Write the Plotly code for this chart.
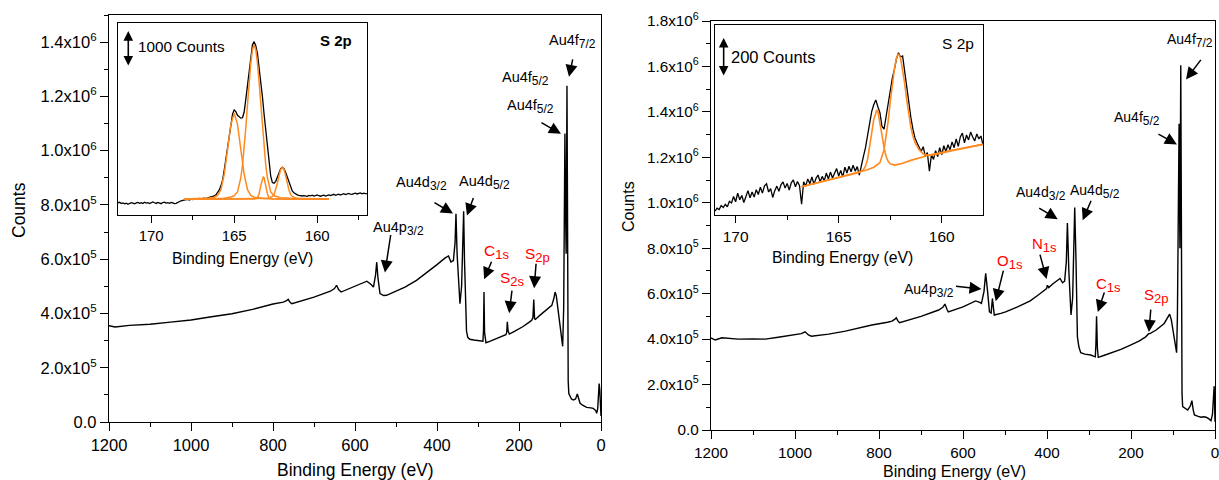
import numpy as np
import plotly.graph_objects as go

FONT = "Liberation Sans, Arial, sans-serif"
ORANGE = "#FF8A1F"
RED = "#FF0000"

# ---------------- survey spectrum, left panel ----------------
left_energy = [1200, 1185, 1150, 1100, 1050, 1000, 950, 900, 850, 800,
               775, 768, 763, 758, 754, 740, 700, 660, 650, 645,
               640, 634, 600, 580, 571, 560, 555, 550, 547, 544,
               539, 530, 523, 500, 478, 450, 420, 400, 380, 372,
               366, 360, 356, 353.7, 351, 347, 344, 340, 337, 335,
               333, 330, 328, 325, 320, 310, 300, 291, 288, 286.5,
               285.4, 284, 282, 280.5, 270, 250, 240, 232, 230, 228.5,
               226.5, 223.6, 210, 190, 175, 169, 166, 164, 162, 160,
               150, 135, 120, 115, 112, 109, 105, 101.6, 97, 93.5,
               91, 89.5, 88, 87, 86, 85, 84, 83, 82, 81,
               80, 78.5, 75.6, 72, 67.5, 62, 57.8, 54, 51, 45,
               35, 25, 19, 13, 10.5, 8, 6, 4.5, 3, 1.5, 0]
left_counts = [3.55e5, 3.50e5, 3.56e5, 3.60e5, 3.68e5, 3.76e5, 3.88e5, 3.99e5, 4.15e5, 4.35e5,
               4.42e5, 4.46e5, 4.52e5, 4.40e5, 4.36e5, 4.42e5, 4.60e5, 4.82e5, 4.92e5, 5.04e5,
               4.88e5, 4.79e5, 5.02e5, 5.13e5, 5.19e5, 5.06e5, 4.97e5, 5.40e5, 5.89e5, 5.30e5,
               4.73e5, 4.66e5, 4.67e5, 4.82e5, 4.97e5, 5.22e5, 5.55e5, 5.80e5, 6.05e5, 6.12e5,
               5.90e5, 5.95e5, 6.60e5, 7.67e5, 6.20e5, 4.80e5, 4.36e5, 5.00e5, 6.80e5, 7.77e5,
               6.00e5, 3.80e5, 3.35e5, 3.12e5, 3.05e5, 3.02e5, 3.01e5, 3.00e5, 2.98e5, 3.40e5,
               4.79e5, 3.30e5, 2.95e5, 2.92e5, 2.98e5, 3.10e5, 3.16e5, 3.22e5, 3.30e5, 3.69e5,
               3.35e5, 3.24e5, 3.35e5, 3.52e5, 3.68e5, 3.75e5, 3.85e5, 4.51e5, 3.80e5, 3.78e5,
               3.92e5, 4.12e5, 4.30e5, 4.55e5, 4.79e5, 4.65e5, 4.20e5, 3.75e5, 3.20e5, 2.79e5,
               4.20e5, 8.00e5, 1.063e6, 8.50e5, 6.50e5, 6.20e5, 9.00e5, 1.239e6, 9.00e5, 4.00e5,
               1.50e5, 1.05e5, 9.3e4, 8.5e4, 8.1e4, 8.5e4, 1.03e5, 7.8e4, 6.9e4, 6.2e4,
               5.4e4, 5.2e4, 5.0e4, 4.2e4, 3.2e4, 5.0e4, 1.2e5, 1.42e5, 1.2e5, 6.0e4, 2.2e4]

# ---------------- survey spectrum, right panel ----------------
right_energy = [1200, 1190, 1174, 1150, 1135, 1100, 1071, 1040, 1000, 985,
                976, 968, 961, 920, 880, 850, 817, 780, 769, 762,
                759, 755, 751, 700, 658, 648, 643, 638, 635, 600,
                570, 560, 556, 550, 546, 542, 537, 533, 530, 527,
                525.5, 510, 498.6, 470, 440, 420, 407, 401, 399, 396,
                385, 375, 369, 363, 358, 354, 351.4, 348, 345, 342.8,
                339, 336, 334, 331, 327.6, 324, 319.7, 310, 295.8, 288,
                285, 283.5, 282, 280, 278, 265, 240, 224, 200, 180,
                165, 160.6, 158, 155, 140, 121, 114, 108, 104, 100,
                97, 93, 91.4, 89.5, 87.5, 85.5, 84.5, 83.5, 82.5, 81.5,
                80.5, 79.5, 78.5, 77, 72, 65, 59, 55, 52, 49,
                40, 33, 27, 21, 15, 9.5, 6, 4, 2, 1, 0]
right_counts = [4.05e5, 3.96e5, 4.06e5, 4.02e5, 4.00e5, 4.01e5, 4.00e5, 4.08e5, 4.21e5, 4.24e5,
                4.32e5, 4.18e5, 4.13e5, 4.22e5, 4.35e5, 4.48e5, 4.62e5, 4.74e5, 4.79e5, 4.88e5,
                4.94e5, 4.80e5, 4.72e5, 5.00e5, 5.28e5, 5.40e5, 5.54e5, 5.30e5, 5.20e5, 5.42e5,
                5.68e5, 5.62e5, 5.57e5, 6.10e5, 6.89e5, 6.20e5, 5.20e5, 5.15e5, 5.79e5, 5.30e5,
                5.06e5, 5.13e5, 5.20e5, 5.42e5, 5.68e5, 5.95e5, 6.15e5, 6.22e5, 6.37e5, 6.27e5,
                6.45e5, 6.59e5, 6.67e5, 6.48e5, 6.55e5, 7.40e5, 9.11e5, 7.00e5, 5.40e5, 5.06e5,
                5.80e5, 8.20e5, 9.79e5, 7.50e5, 4.10e5, 3.65e5, 3.40e5, 3.34e5, 3.30e5, 3.24e5,
                3.22e5, 3.80e5, 5.01e5, 3.60e5, 3.20e5, 3.28e5, 3.45e5, 3.55e5, 3.75e5, 3.92e5,
                4.10e5, 4.18e5, 4.24e5, 4.24e5, 4.40e5, 4.69e5, 4.90e5, 5.10e5, 4.85e5, 4.40e5,
                3.96e5, 3.50e5, 3.40e5, 5.00e5, 9.50e5, 1.348e6, 1.05e6, 8.00e5, 1.20e6, 1.605e6,
                1.15e6, 5.00e5, 1.60e5, 1.03e5, 9.5e4, 8.8e4, 1.05e5, 1.29e5, 9.0e4, 6.6e4,
                6.0e4, 5.6e4, 5.8e4, 5.6e4, 5.0e4, 4.1e4, 7.0e4, 1.6e5, 1.93e5, 1.2e5, 3.6e4]

# ---------------- S 2p inset, left (172 -> 157 eV, 0.1 eV steps) ----------------
left_inset_counts = [
    340, 352, 318, 335, 310, 328, 296, 322, 345, 330,
    312, 338, 350, 325, 340, 318, 355, 332, 342, 320,
    348, 365, 340, 322, 350, 335, 315, 345, 358, 330,
    342, 325, 350, 338, 315, 324, 352, 370, 395, 405,
    417, 420, 432, 418, 440, 428, 445, 452, 438, 460,
    448, 463, 470, 458, 485, 492, 505, 515, 528, 560,
    615, 695, 810, 970, 1250, 1560, 1830, 2090, 2450, 2800,
    2920, 2870, 2770, 2720, 2690, 2700, 2860, 3220, 3640, 4060,
    4460, 4730, 4815, 4700, 4480, 4110, 3700, 3290, 2800, 2330,
    1900, 1450, 1080, 900, 885, 935, 1060, 1190, 1290, 1324,
    1290, 1180, 1050, 900, 770, 670, 615, 580, 560, 545,
    535, 528, 540, 525, 518, 545, 530, 552, 528, 540,
    558, 535, 522, 537, 550, 528, 545, 560, 538, 552,
    575, 548, 562, 580, 555, 570, 590, 565, 578, 600,
    583, 572, 595, 605, 585, 598, 612, 590, 605, 595,
    593]
left_inset_energy = np.linspace(172.0, 157.0, len(left_inset_counts))

fitA_energy = [168.0, 167.0, 166.5, 166.2, 166.0, 165.8, 165.6, 165.4, 165.2, 165.0,
               164.8, 164.6, 164.4, 164.2, 164.0, 163.8, 163.4, 163.0, 162.0, 161.0, 159.3]
fitA_counts = [443, 453, 470, 495, 545, 702, 1131, 1817, 2519, 2825,
               2519, 1817, 1131, 702, 545, 495, 465, 453, 443, 438, 435]
fitB_energy = [168.0, 167.0, 166.2, 165.6, 165.2, 165.0, 164.8, 164.6, 164.5, 164.4,
               164.3, 164.2, 164.1, 164.0, 163.9, 163.8, 163.7, 163.6, 163.5, 163.4,
               163.3, 163.2, 163.1, 163.0, 162.8, 162.6, 162.2, 161.6, 160.6, 159.3]
fitB_counts = [440, 449, 455, 466, 500, 535, 640, 1040, 1384, 1851,
               2422, 3055, 3685, 4225, 4592, 4722, 4592, 4225, 3685, 3055,
               2422, 1851, 1384, 1040, 640, 535, 482, 462, 449, 441]
fitC_energy = [168.0, 163.8, 163.6, 163.5, 163.4, 163.3, 163.25, 163.2, 163.1, 163.0,
               162.9, 162.7, 159.3]
fitC_counts = [437, 445, 478, 592, 817, 1031, 1065, 1031, 817, 592,
               478, 445, 437]
fitD_energy = [168.0, 163.6, 163.1, 162.9, 162.7, 162.6, 162.5, 162.4, 162.3, 162.2,
               162.1, 162.0, 161.9, 161.8, 161.7, 161.6, 161.5, 161.3, 161.1, 160.6, 159.3]
fitD_counts = [440, 447, 460, 475, 515, 565, 695, 880, 1089, 1259,
               1325, 1259, 1089, 880, 695, 565, 515, 475, 460, 447, 440]

# ---------------- S 2p inset, right (171 -> 158 eV, 0.1 eV steps) ----------------
right_inset_counts = [
    20, 35, 28, 48, 38, 55, 42, 70, 62, 95,
    68, 112, 78, 100, 64, 96, 125, 88, 118, 92,
    130, 105, 142, 112, 150, 160, 118, 135, 90, 125,
    148, 122, 155, 170, 138, 162, 128, 165, 180, 145,
    172, 150, 55, 170, 148, 185, 160, 195, 158, 188,
    205, 170, 198, 175, 215, 185, 220, 190, 212, 238,
    200, 228, 195, 245, 215, 250, 222, 255, 225, 248,
    205, 262, 300, 345, 410, 470, 530, 565, 590, 555,
    525, 455, 440, 505, 570, 640, 700, 745, 800, 832,
    810, 815, 730, 655, 590, 500, 440, 395, 370, 345,
    325, 350, 300, 320, 225, 310, 285, 330, 300, 345,
    310, 355, 325, 360, 335, 375, 345, 390, 352, 400,
    420, 370, 410, 385, 425, 400, 380, 415, 390, 405,
    360]
right_inset_energy = np.linspace(171.0, 158.0, len(right_inset_counts))

fit1_energy = [166.8, 164.5, 164.0, 163.8, 163.7, 163.6, 163.5, 163.4, 163.3, 163.2,
               163.15, 163.1, 163.0, 162.9, 162.8, 162.7, 162.6, 162.5, 162.3, 162.0,
               161.5, 161.0, 160.5, 159.5, 158.0]
fit1_counts = [145, 205, 218, 232, 250, 285, 345, 420, 490, 532,
               538, 532, 480, 410, 345, 300, 275, 262, 256, 262,
               280, 296, 310, 332, 362]
fit2_energy = [166.8, 164.5, 164.0, 163.6, 163.3, 163.0, 162.8, 162.7, 162.6, 162.5,
               162.4, 162.3, 162.2, 162.1, 162.0, 161.9, 161.8, 161.7, 161.6, 161.5,
               161.4, 161.3, 161.1, 160.9, 160.6, 160.3, 159.5, 158.0]
fit2_counts = [145, 205, 218, 232, 245, 268, 335, 400, 480, 580,
               670, 745, 805, 826, 805, 750, 675, 590, 510, 450,
               405, 372, 335, 312, 305, 310, 330, 362]

# ---------------- tick labels ----------------
x_major = [1200, 1000, 800, 600, 400, 200, 0]
left_y_ticks = [0, 2e5, 4e5, 6e5, 8e5, 1.0e6, 1.2e6, 1.4e6]
left_y_text = ["0.0", "2.0x10<sup>5</sup>", "4.0x10<sup>5</sup>", "6.0x10<sup>5</sup>",
               "8.0x10<sup>5</sup>", "1.0x10<sup>6</sup>", "1.2x10<sup>6</sup>", "1.4x10<sup>6</sup>"]
right_y_ticks = [0, 2e5, 4e5, 6e5, 8e5, 1.0e6, 1.2e6, 1.4e6, 1.6e6, 1.8e6]
right_y_text = ["0.0", "2.0x10<sup>5</sup>", "4.0x10<sup>5</sup>", "6.0x10<sup>5</sup>",
                "8.0x10<sup>5</sup>", "1.0x10<sup>6</sup>", "1.2x10<sup>6</sup>", "1.4x10<sup>6</sup>",
                "1.6x10<sup>6</sup>", "1.8x10<sup>6</sup>"]
inset_x_ticks = [170, 165, 160]

fig = go.Figure()

def line(x, y, xa, ya, color, width):
    fig.add_trace(go.Scatter(x=x, y=y, mode="lines", xaxis=xa, yaxis=ya,
                             line=dict(color=color, width=width), showlegend=False,
                             hoverinfo="skip"))

line(left_energy, left_counts, "x", "y", "black", 1.4)
line(right_energy, right_counts, "x2", "y2", "black", 1.4)
line(left_inset_energy, left_inset_counts, "x3", "y3", "black", 1.3)
for ex, cy in [(fitA_energy, fitA_counts), (fitB_energy, fitB_counts),
               (fitC_energy, fitC_counts), (fitD_energy, fitD_counts)]:
    line(ex, cy, "x3", "y3", ORANGE, 1.5)
line(right_inset_energy, right_inset_counts, "x4", "y4", "black", 1.3)
for ex, cy in [(fit1_energy, fit1_counts), (fit2_energy, fit2_counts)]:
    line(ex, cy, "x4", "y4", ORANGE, 1.6)

W, H = 1219, 480
def px_x(p):
    return p / W
def px_y(p):
    return 1 - p / H

LW = 1.3

def main_x(dom, anchor, fs):
    return dict(domain=dom, anchor=anchor, range=[1200, 0], autorange=False, automargin=False,
                tickmode="array", tickvals=x_major, ticktext=[str(v) for v in x_major],
                ticklabeloverflow="allow",
                ticks="outside", ticklen=8, tickwidth=LW, tickcolor="black",
                minor=dict(tick0=0, dtick=100, ticks="outside", ticklen=4,
                           tickwidth=LW, tickcolor="black"),
                showline=True, linecolor="black", linewidth=LW, mirror=True,
                showgrid=False, zeroline=False,
                tickfont=dict(family=FONT, size=fs, color="black"))

def main_y(dom, anchor, rng, tv, tt, fs):
    return dict(domain=dom, anchor=anchor, range=rng, autorange=False, automargin=False,
                tickmode="array", tickvals=tv, ticktext=tt,
                ticklabeloverflow="allow",
                ticks="outside", ticklen=8, tickwidth=LW, tickcolor="black",
                minor=dict(tick0=0, dtick=1e5, ticks="outside", ticklen=4,
                           tickwidth=LW, tickcolor="black"),
                showline=True, linecolor="black", linewidth=LW, mirror=True,
                showgrid=False, zeroline=False,
                tickfont=dict(family=FONT, size=fs, color="black"))

def inset_x(dom, anchor, rng, fs):
    return dict(domain=dom, anchor=anchor, range=rng, autorange=False, automargin=False,
                tickmode="array", tickvals=inset_x_ticks,
                ticktext=[str(v) for v in inset_x_ticks],
                ticks="outside", ticklen=7, tickwidth=LW, tickcolor="black",
                minor=dict(tick0=0, dtick=2.5, ticks="outside", ticklen=4,
                           tickwidth=LW, tickcolor="black"),
                showline=True, linecolor="black", linewidth=LW, mirror=True,
                showgrid=False, zeroline=False,
                tickfont=dict(family=FONT, size=fs, color="black"))

def inset_y(dom, anchor, rng):
    return dict(domain=dom, anchor=anchor, range=rng, autorange=False, automargin=False,
                showticklabels=False, ticks="",
                showline=True, linecolor="black", linewidth=LW, mirror=True,
                showgrid=False, zeroline=False)

fig.update_layout(
    width=W, height=H, autosize=False, margin=dict(l=0, r=0, t=0, b=0, pad=0),
    paper_bgcolor="white", plot_bgcolor="white", showlegend=False,
    font=dict(family=FONT, color="black"),
    xaxis=main_x([px_x(109), px_x(601)], "y", 16.5),
    yaxis=main_y([px_y(422), px_y(15)], "x", [0, 1.5e6], left_y_ticks, left_y_text, 16.5),
    xaxis2=main_x([px_x(711), px_x(1215)], "y2", 15.3),
    yaxis2=main_y([px_y(430), px_y(21)], "x2", [0, 1.8e6], right_y_ticks, right_y_text, 15.3),
    xaxis3=inset_x([px_x(118), px_x(367)], "y3", [172, 157], 15),
    yaxis3=inset_y([px_y(215), px_y(23)], "x3", [0, 5333]),
    xaxis4=inset_x([px_x(715), px_x(983)], "y4", [171, 158], 15.5),
    yaxis4=inset_y([px_y(215), px_y(25)], "x4", [0, 974]),
)

ann = []

def title(text, x, y, fs, angle=0):
    ann.append(dict(text=text, x=px_x(x), y=px_y(y), xref="paper", yref="paper",
                    showarrow=False, textangle=angle, xanchor="center", yanchor="middle",
                    font=dict(family=FONT, size=fs, color="black")))

title("Counts", 19, 210, 17.5, -90)
title("Binding Energy (eV)", 355, 470, 17.5)
title("Counts", 628, 207, 16, -90)
title("Binding Energy (eV)", 955, 471, 16)
title("Binding Energy (eV)", 242, 258, 15.8)
title("Binding Energy (eV)", 842, 257, 15.8)

def sub(main, s, size):
    return main + "<sub><span style='font-size:%dpx'>%s</span></sub>" % (size, s)

def label(text, x, y, xr, yr, color, fs, xanchor="center"):
    ann.append(dict(text=text, x=x, y=y, xref=xr, yref=yr, showarrow=False,
                    xanchor=xanchor, yanchor="middle",
                    font=dict(family=FONT, size=fs, color=color)))

def arrow(x, y, ax, ay, xr, yr):
    ann.append(dict(text="", x=x, y=y, xref=xr, yref=yr, showarrow=True,
                    ax=ax, ay=ay, arrowhead=2, arrowsize=1.6, arrowwidth=1.5,
                    arrowcolor="black", standoff=0))

# peak labels: (name, subscript, color, text E, text counts, head E, head counts, dx, dy)
left_marks = [
    ("Au4f", "7/2", "black", 70.7, 1.404e6, 78, 1.272e6, 4, -19),
    ("Au4f", "5/2", "black", 183, 1.265e6, None, None, 0, 0),
    ("Au4f", "5/2", "black", 171, 1.162e6, 97.6, 1.062e6, -21, -12),
    ("Au4d", "3/2", "black", 436.6, 8.79e5, 361, 7.68e5, -20, -12),
    ("Au4d", "5/2", "black", 285, 8.82e5, 327, 7.61e5, 7, -19),
    ("Au4p", "3/2", "black", 493, 7.13e5, 527, 5.51e5, 6, -39),
    ("C", "1s", RED, 254, 6.25e5, 285, 5.26e5, 8, -19),
    ("S", "2s", RED, 215, 5.26e5, 224, 4.01e5, 3, -24),
    ("S", "2p", RED, 156, 6.14e5, 163, 4.93e5, 2, -26),
]
right_marks = [
    ("Au4f", "7/2", "black", 59.6, 1.714e6, 69, 1.543e6, 16, -21),
    ("Au4f", "5/2", "black", 186, 1.372e6, 90.6, 1.257e6, -20, -11),
    ("Au4d", "3/2", "black", 415, 1.042e6, 374.5, 9.28e5, -20, -12),
    ("Au4d", "5/2", "black", 286, 1.051e6, 315, 9.23e5, 9, -21),
    ("N", "1s", RED, 405.5, 8.13e5, 401, 6.64e5, -7, -26),
    ("O", "1s", RED, 489, 7.39e5, 522, 5.67e5, 8, -32),
    ("Au4p", "3/2", "black", 682, 6.15e5, 556, 6.2e5, -27, -3),
    ("C", "1s", RED, 253, 6.37e5, 279, 5.19e5, 7, -21),
    ("S", "2p", RED, 141, 5.89e5, 157.4, 4.31e5, 2, -24),
]
for marks, xr, yr, fs in [(left_marks, "x", "y", 14.5), (right_marks, "x2", "y2", 14)]:
    for name, s, color, tx, ty, hx, hy, dx, dy in marks:
        big = fs + (1.0 if color == RED else 0)
        label(sub(name, s, round(big * 0.85)), tx, ty, xr, yr, color, big)
        if hx is not None:
            arrow(hx, hy, dx, dy, xr, yr)

# inset scale bars and labels
ann.append(dict(text="", x=171.38, y=4150, ax=171.38, ay=5150, xref="x3", yref="y3",
                axref="x3", ayref="y3", showarrow=True, arrowside="end+start",
                arrowhead=2, arrowsize=1.2, arrowwidth=1.6, arrowcolor="black", standoff=0,
                startstandoff=0, startarrowhead=2, startarrowsize=1.2))
label("1000 Counts", 170.93, 4675, "x3", "y3", "black", 15.3, "left")
label("<b>S 2p</b>", 158.85, 4842, "x3", "y3", "black", 15)
ann.append(dict(text="", x=170.58, y=715, ax=170.58, ay=915, xref="x4", yref="y4",
                axref="x4", ayref="y4", showarrow=True, arrowside="end+start",
                arrowhead=2, arrowsize=1.2, arrowwidth=1.6, arrowcolor="black", standoff=0,
                startstandoff=0, startarrowhead=2, startarrowsize=1.2))
label("200 Counts", 170.34, 812, "x4", "y4", "black", 16.5, "left")
label("S 2p", 159.22, 877, "x4", "y4", "black", 15.5)

fig.update_layout(annotations=ann)
fig.write_html("out.html", config={"displayModeBar": False},
               post_script="document.body.style.margin='0';document.body.style.overflow='hidden';")
